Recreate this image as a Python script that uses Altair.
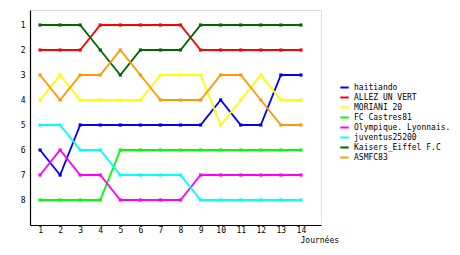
import altair as alt
import pandas as pd

journees = list(range(1, 15))
teams = ["haitiando", "ALLEZ UN VERT", "MORIANI 20", "FC Castres81",
         "Olympique. Lyonnais.", "juventus25200", "Kaisers_Eiffel F.C", "ASMFC83"]
colors = ["#0000ff", "#ff0000", "#ffff00", "#00ff00",
          "#ff00ff", "#00ffff", "#006600", "#ff9900"]

haitiando = [6, 7, 5, 5, 5, 5, 5, 5, 5, 4, 5, 5, 3, 3]
allez_un_vert = [2, 2, 2, 1, 1, 1, 1, 1, 2, 2, 2, 2, 2, 2]
moriani_20 = [4, 3, 4, 4, 4, 4, 3, 3, 3, 5, 4, 3, 4, 4]
fc_castres81 = [8, 8, 8, 8, 6, 6, 6, 6, 6, 6, 6, 6, 6, 6]
olympique_lyonnais = [7, 6, 7, 7, 8, 8, 8, 8, 7, 7, 7, 7, 7, 7]
juventus25200 = [5, 5, 6, 6, 7, 7, 7, 7, 8, 8, 8, 8, 8, 8]
kaisers_eiffel = [1, 1, 1, 2, 3, 2, 2, 2, 1, 1, 1, 1, 1, 1]
asmfc83 = [3, 4, 3, 3, 2, 3, 4, 4, 4, 3, 3, 4, 5, 5]

series = [haitiando, allez_un_vert, moriani_20, fc_castres81,
          olympique_lyonnais, juventus25200, kaisers_eiffel, asmfc83]

rows = []
for team, vals in zip(teams, series):
    for j, v in zip(journees, vals):
        rows.append({"team": team, "journee": j, "rang": v})
df = pd.DataFrame(rows)

FONT = "DejaVu Sans Mono"

chart = alt.Chart(df).mark_line(
    strokeWidth=1.8,
    point=alt.OverlayMarkDef(shape="square", size=10, filled=True, opacity=1),
).encode(
    x=alt.X("journee:Q",
            scale=alt.Scale(domain=[0.5, 15], nice=False, zero=False),
            axis=alt.Axis(values=journees, title="Journées", grid=False, ticks=False,
                          labelPadding=1, labelFontSize=8, labelFont=FONT,
                          titleFont=FONT, titleFontSize=8, titleFontWeight="normal",
                          titleAlign="left", titleBaseline="middle",
                          titleX=270, titleY=15, domainColor="black", domainWidth=1.2,
                          labelColor="black", titleColor="black")),
    y=alt.Y("rang:Q",
            scale=alt.Scale(domain=[0.4, 9], reverse=True, nice=False, zero=False),
            axis=alt.Axis(values=list(range(1, 9)), title=None, grid=False, ticks=False,
                          labelPadding=5, labelFontSize=8, labelFont=FONT,
                          domainColor="black", domainWidth=1.2, labelColor="black")),
    color=alt.Color("team:N",
                    scale=alt.Scale(domain=teams, range=colors),
                    sort=teams,
                    legend=alt.Legend(title=None, orient="none", legendX=309, legendY=72,
                                      symbolType="stroke", symbolSize=70,
                                      symbolStrokeWidth=2, labelFont=FONT,
                                      labelFontSize=8, labelColor="black",
                                      labelOffset=4, rowPadding=0,
                                      labelLimit=200)),
    detail="team:N",
    order="journee:Q",
).properties(
    width=291,
    height=215,
    autosize=alt.AutoSizeParams(type="none"),
    padding={"left": 30, "top": 10, "right": 139, "bottom": 30},
).configure_view(
    stroke=None,
).configure(background="white")

chart.save("out.html", embed_options={"renderer": "svg", "actions": False})
